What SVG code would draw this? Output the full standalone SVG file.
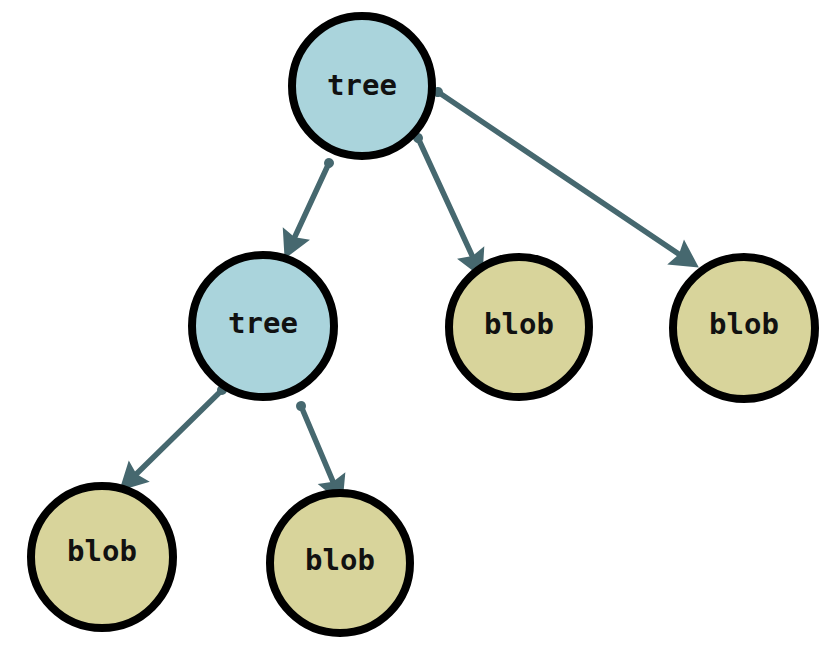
<svg xmlns="http://www.w3.org/2000/svg" width="836" height="660" viewBox="0 0 836 660">
  <style>
    .node circle { stroke: #000; stroke-width: 8; }
    .tree circle { fill: #aad4dc; }
    .blob circle { fill: #d8d49b; }
    .node text { font-family: "DejaVu Sans Mono", "Liberation Mono", monospace; font-weight: bold; font-size: 29px; fill: #111; text-anchor: middle; dominant-baseline: central; }
    .edges path { fill: none; stroke: #46686f; stroke-width: 5.5; stroke-linecap: round; marker-start: url(#dot); marker-end: url(#head); }
  </style>
  <defs>
    <marker id="head" markerUnits="userSpaceOnUse" orient="auto" refX="0" refY="0" markerWidth="40" markerHeight="40" viewBox="-20 -20 40 40" overflow="visible">
      <path d="M15,0 L-13,-15 L-9,0 L-13,15 Z" fill="#46686f"/>
    </marker>
    <marker id="dot" markerUnits="userSpaceOnUse" orient="auto" refX="0" refY="0" markerWidth="12" markerHeight="12" viewBox="-6 -6 12 12" overflow="visible">
      <circle r="5" fill="#46686f"/>
    </marker>
  </defs>

  <g id="edges" class="edges">
    <path d="M329,163 L290.9,245.3"/>
    <path d="M418,138 L476.1,264.3"/>
    <path d="M438,92 L686.4,259.2"/>
    <path d="M222,390 L130,480.2"/>
    <path d="M301,406 L336.6,490.1"/>
  </g>

  <g id="tree-root" class="node tree">
    <circle cx="362" cy="86" r="70"/>
    <text x="362" y="85">tree</text>
  </g>
  <g id="tree-child" class="node tree">
    <circle cx="263" cy="326" r="71"/>
    <text x="263" y="323">tree</text>
  </g>
  <g id="blob-mid" class="node blob">
    <circle cx="519" cy="327" r="70"/>
    <text x="519" y="324">blob</text>
  </g>
  <g id="blob-right" class="node blob">
    <circle cx="744" cy="328" r="71"/>
    <text x="744" y="324">blob</text>
  </g>
  <g id="blob-left" class="node blob">
    <circle cx="102" cy="557" r="71"/>
    <text x="102" y="551">blob</text>
  </g>
  <g id="blob-low" class="node blob">
    <circle cx="340" cy="563" r="70"/>
    <text x="340" y="560">blob</text>
  </g>
</svg>
